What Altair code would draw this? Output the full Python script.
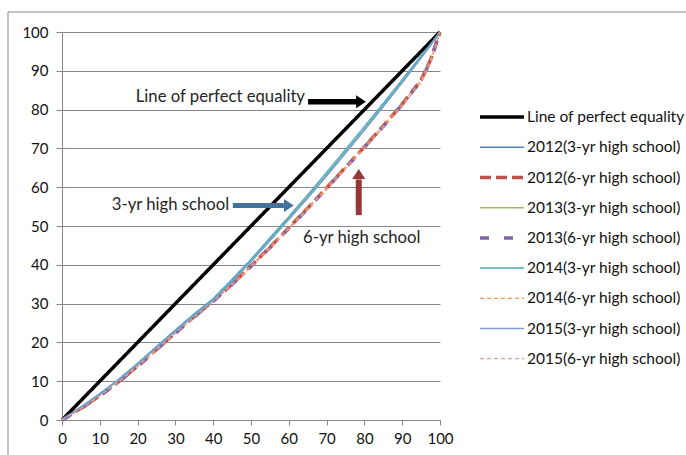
import altair as alt
import pandas as pd

# Cumulative share of population (%)
pop_share = [0, 5, 10, 15, 20, 25, 30, 35, 40, 45, 50, 55, 60, 65, 70, 75, 80, 85, 90, 95, 97.5, 100]

# Cumulative share of income (%) by year and school type
equality = pop_share
y3_2012 = [0, 3.3, 6.7, 10.4, 14.5, 18.8, 23.1, 27.2, 31.0, 35.9, 41.0, 46.4, 51.9, 57.4, 63.1, 69.0, 74.9, 81.0, 87.1, 93.5, 96.7, 100]
y6_2012 = [0, 3.0, 6.3, 9.9, 13.9, 18.2, 22.5, 26.7, 30.7, 35.0, 39.7, 44.5, 49.5, 54.6, 59.8, 65.1, 70.4, 75.8, 81.4, 87.6, 92.8, 100]
y3_2013 = [0, 3.2, 6.6, 10.3, 14.4, 18.7, 23.0, 27.1, 30.9, 35.8, 40.9, 46.3, 51.8, 57.3, 63.0, 68.9, 74.8, 80.9, 87.0, 93.4, 96.6, 100]
y6_2013 = [0, 2.9, 6.2, 9.8, 13.8, 18.1, 22.4, 26.6, 30.6, 34.9, 39.6, 44.4, 49.4, 54.5, 59.7, 65.0, 70.3, 75.7, 81.3, 87.5, 92.6, 100]
y3_2014 = [0, 3.3, 6.8, 10.5, 14.6, 18.9, 23.2, 27.4, 31.3, 36.3, 41.4, 46.9, 52.4, 58.0, 63.8, 69.7, 75.6, 81.6, 87.7, 93.9, 96.9, 100]
y6_2014 = [0, 3.0, 6.4, 10.0, 14.0, 18.3, 22.6, 26.8, 30.8, 35.1, 39.8, 44.6, 49.6, 54.7, 59.9, 65.2, 70.5, 75.9, 81.5, 87.7, 92.9, 100]
y3_2015 = [0, 3.2, 6.6, 10.3, 14.4, 18.7, 22.9, 27.0, 30.8, 35.7, 40.8, 46.2, 51.7, 57.2, 62.9, 68.8, 74.7, 80.8, 87.0, 93.3, 96.6, 100]
y6_2015 = [0, 2.9, 6.2, 9.8, 13.7, 18.0, 22.3, 26.5, 30.5, 34.8, 39.4, 44.2, 49.2, 54.3, 59.4, 64.7, 70.0, 75.3, 80.9, 87.0, 92.0, 100]

series_names = [
    "Line of perfect equality",
    "2012(3-yr high school)",
    "2012(6-yr high school)",
    "2013(3-yr high school)",
    "2013(6-yr high school)",
    "2014(3-yr high school)",
    "2014(6-yr high school)",
    "2015(3-yr high school)",
    "2015(6-yr high school)",
]
series_values = [equality, y3_2012, y6_2012, y3_2013, y6_2013, y3_2014, y6_2014, y3_2015, y6_2015]

# Line styling per series
series_colors = ["#000000", "#4F81BD", "#C0504D", "#9BBB59", "#8064A2",
                 "#4BACC6", "#F79646", "#7B9FD0", "#E39C9A"]
series_dashes = [[1, 0], [1, 0], [11, 5], [1, 0], [9, 15],
                 [1, 0], [4, 3], [1, 0], [4, 3]]
series_widths = [3.5, 1.5, 3.5, 1.5, 3.5, 1.5, 1.2, 1.5, 1.2]

# Text annotations (data coordinates)
ann_labels = ["Line of perfect equality", "3-yr high school", "6-yr high school"]
ann_x = [41.9, 28.7, 79.3]
ann_y = [83.3, 55.3, 46.9]

FONT = "Lato"
GRID = "#868686"
TICKS = list(range(0, 101, 10))

rows = []
for k, (name, ys) in enumerate(zip(series_names, series_values)):
    for x, y in zip(pop_share, ys):
        rows.append({"series": name, "k": k, "x": x, "y": y})
df = pd.DataFrame(rows)

x_scale = alt.Scale(domain=[0, 100], nice=False)
y_scale = alt.Scale(domain=[0, 100], nice=False)
x_axis = alt.Axis(values=TICKS, grid=False, title=None, tickSize=5, labelPadding=6,
                  labelFlush=False, labelOverlap=False)
y_axis = alt.Axis(values=TICKS, grid=True, title=None, tickSize=6, labelPadding=8,
                  labelFlush=False, labelOverlap=False)


def X(field):
    return alt.X(field, scale=x_scale, axis=x_axis)


def Y(field):
    return alt.Y(field, scale=y_scale, axis=y_axis)


lines = alt.Chart(df).mark_line(strokeJoin="round").encode(
    x=X("x:Q"),
    y=Y("y:Q"),
    color=alt.Color("series:N", scale=alt.Scale(domain=series_names, range=series_colors),
                    legend=alt.Legend(title=None)),
    strokeDash=alt.StrokeDash("series:N", scale=alt.Scale(domain=series_names, range=series_dashes),
                              legend=alt.Legend(title=None)),
    strokeWidth=alt.StrokeWidth("series:N",
                                scale=alt.Scale(type="ordinal", domain=series_names, range=series_widths),
                                legend=alt.Legend(title=None)),
    detail="k:O",
)

ann_df = pd.DataFrame({"label": ann_labels, "x": ann_x, "y": ann_y})
texts = alt.Chart(ann_df).mark_text(font=FONT, fontSize=16.7, color="#262626",
                                    align="center", baseline="middle").encode(
    x=X("x:Q"), y=Y("y:Q"), text="label:N")

# Arrows: shaft as a thick rule plus a triangular head
RIGHT_HEAD = "M-0.75,-1L0.75,0L-0.75,1Z"
UP_HEAD = "M-1,0.75L0,-0.75L1,0.75Z"


def arrow(x0, y0, x1, y1, hx, hy, head, color, width):
    shaft = alt.Chart(pd.DataFrame({"x": [x0], "y": [y0], "x2": [x1], "y2": [y1]})).mark_rule(
        color=color, strokeWidth=width).encode(x=X("x:Q"), y=Y("y:Q"), x2="x2:Q", y2="y2:Q")
    tip = alt.Chart(pd.DataFrame({"x": [hx], "y": [hy]})).mark_point(
        shape=head, size=170, filled=True, color=color, opacity=1, strokeWidth=0).encode(
        x=X("x:Q"), y=Y("y:Q"))
    return shaft + tip


arrow_eq = arrow(65.1, 82.0, 78.2, 82.0, 79.1, 82.0, RIGHT_HEAD, "#000000", 5.5)
arrow_3 = arrow(45.2, 55.3, 58.7, 55.3, 60.0, 55.3, RIGHT_HEAD, "#41719C", 5)
arrow_6 = arrow(78.5, 52.8, 78.5, 62.0, 78.5, 63.4, UP_HEAD, "#953735", 6)

# Outer chart frame (top and left edges)
frame_df = pd.DataFrame({"f": [0]})
frame_top = alt.Chart(frame_df).mark_rule(color=GRID, strokeWidth=1).encode(
    x=alt.value(-54), x2=alt.value(700), y=alt.value(-20))
frame_left = alt.Chart(frame_df).mark_rule(color=GRID, strokeWidth=1).encode(
    x=alt.value(-54), y=alt.value(-20), y2=alt.value(500))

chart = alt.layer(
    lines, texts, arrow_eq, arrow_3, arrow_6, frame_top, frame_left
).properties(
    width=378,
    height=388,
    padding={"left": 62, "top": 32, "right": 246, "bottom": 35},
    autosize=alt.AutoSizeParams(type="none"),
    background="white",
).configure_view(
    stroke=None
).configure_axis(
    labelFont=FONT,
    labelFontSize=15,
    labelColor="#111111",
    domainColor=GRID,
    tickColor=GRID,
    gridColor=GRID,
    gridWidth=1,
    domainWidth=1,
    tickWidth=1,
).configure_legend(
    orient="none",
    legendX=416,
    legendY=77.6,
    padding=0,
    symbolType="stroke",
    symbolSize=1936,
    clipHeight=15,
    rowPadding=14.2,
    labelFont=FONT,
    labelFontSize=15.5,
    labelColor="#111111",
    labelOffset=1,
    labelLimit=300,
)

chart.save("out.html", embed_options={"renderer": "svg", "actions": False})
